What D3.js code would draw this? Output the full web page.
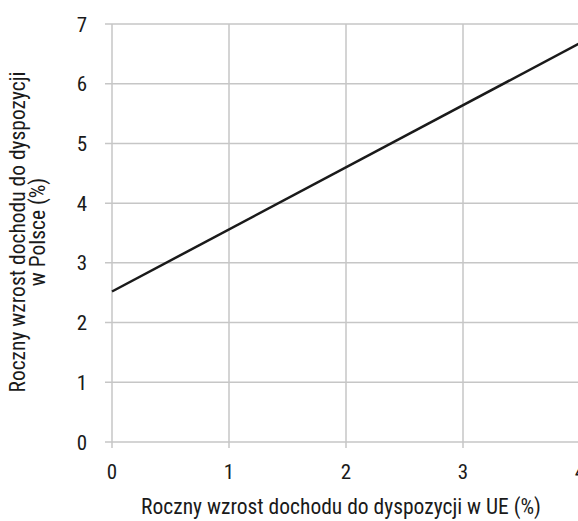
<!DOCTYPE html>
<html>
<head>
<meta charset="utf-8">
<script src="https://cdn.jsdelivr.net/npm/d3@7"></script>
<style>
  body { margin: 0; background: #fff; }
  svg text { font-family: "Liberation Sans Narrow", "Roboto Condensed", "Arial Narrow", sans-serif; fill: #1a1a1a; }
</style>
</head>
<body>
<div id="chart"></div>
<script>
let svgWidth = 578;
let svgHeight = 521;

// line end points
let xValues = [0, 4];
let yValues = [2.52, 6.68];
let xTicks = [0, 1, 2, 3, 4];
let yTicks = [0, 1, 2, 3, 4, 5, 6, 7];

let margin = { top: 24, right: 0, bottom: 79, left: 112 };
let width = 468;   // 0..4 spans past the right edge, as in the original
let height = svgHeight - margin.top - margin.bottom;

let svg = d3.select("#chart")
  .append("svg")
  .attr("width", svgWidth)
  .attr("height", svgHeight);

let chartGroup = svg.append("g")
  .attr("transform", `translate(${margin.left}, ${margin.top})`);

let xScale = d3.scaleLinear().domain([0, 4]).range([0, width]);
let yScale = d3.scaleLinear().domain([0, 7]).range([height, 0]);

// grid lines
chartGroup.selectAll(".vgrid")
  .data(xTicks)
  .enter()
  .append("line")
  .attr("x1", d => xScale(d))
  .attr("x2", d => xScale(d))
  .attr("y1", 0)
  .attr("y2", height + 6)
  .attr("stroke", "#c6c6c6")
  .attr("stroke-width", 1.5);

chartGroup.selectAll(".hgrid")
  .data(yTicks)
  .enter()
  .append("line")
  .attr("x1", -7)
  .attr("x2", width)
  .attr("y1", d => yScale(d))
  .attr("y2", d => yScale(d))
  .attr("stroke", "#c6c6c6")
  .attr("stroke-width", 1.5);

// tick labels
chartGroup.selectAll(".xlab")
  .data(xTicks)
  .enter()
  .append("text")
  .attr("x", d => xScale(d))
  .attr("y", height + 37)
  .attr("text-anchor", "middle")
  .attr("font-size", 21)
  .text(d => d);

chartGroup.selectAll(".ylab")
  .data(yTicks)
  .enter()
  .append("text")
  .attr("x", -25)
  .attr("y", d => yScale(d) + 7.5)
  .attr("text-anchor", "end")
  .attr("font-size", 21)
  .text(d => d);

// the line
let line = d3.line()
  .x((d, i) => xScale(xValues[i]))
  .y(d => yScale(d));

chartGroup.append("path")
  .datum(yValues)
  .attr("d", line)
  .attr("fill", "none")
  .attr("stroke", "#1a1a1a")
  .attr("stroke-width", 2.5);

// axis titles
svg.append("text")
  .attr("x", 341)
  .attr("y", 514)
  .attr("text-anchor", "middle")
  .attr("font-size", 21.5)
  .text("Roczny wzrost dochodu do dyspozycji w UE (%)");

let yTitle = svg.append("text")
  .attr("transform", "translate(0, 232) rotate(-90)")
  .attr("text-anchor", "middle")
  .attr("font-size", 21.5);
yTitle.append("tspan").attr("x", 0).attr("y", 25).text("Roczny wzrost dochodu do dyspozycji");
yTitle.append("tspan").attr("x", 0).attr("y", 45).text("w Polsce (%)");
</script>
</body>
</html>
